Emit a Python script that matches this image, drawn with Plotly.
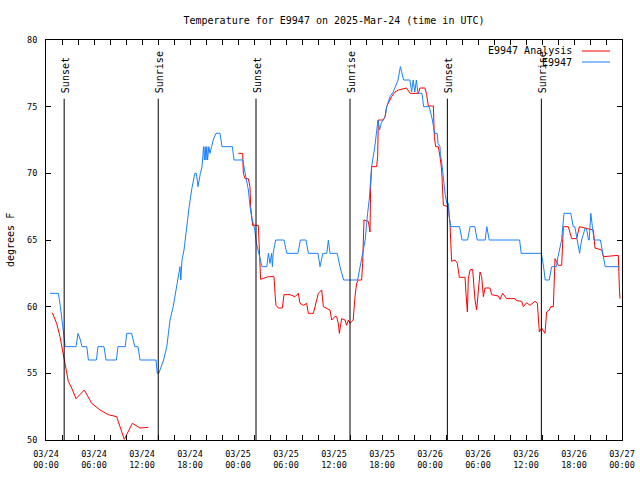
import plotly.graph_objects as go
import pandas as pd

BASE = pd.Timestamp("2025-03-24 00:00")

# Observed station temperature (E9947): hours since 03/24 00:00 UTC, degrees F
obs_hours = [0.5, 1.55, 1.8, 2.0, 2.2, 2.4, 3.75, 4.0, 4.3, 4.5, 5.1, 5.3, 6.3, 6.5, 7.25, 7.5,
             8.8, 9.0, 9.9, 10.1, 10.7, 10.9, 11.1, 11.5, 11.75, 13.75, 13.9, 14.1, 14.4, 14.7,
             15.1, 15.3, 15.5, 15.9, 16.3, 16.6, 16.75, 16.85, 17.0, 17.25, 17.6, 17.9, 18.2,
             18.6, 18.8, 19.0, 19.3, 19.5, 19.7, 19.8, 19.9, 20.0, 20.1, 20.2, 20.35, 20.5,
             20.7, 20.9, 21.25, 21.75, 22.0, 23.3, 23.5, 24.6, 24.8, 25.0, 25.3, 25.5, 25.7,
             26.1, 26.3, 26.5, 26.7, 27.0, 27.6, 27.8, 28.0, 28.2, 28.3, 28.4, 28.7, 29.75,
             30.1, 31.5, 31.8, 32.5, 32.8, 34.0, 34.25, 34.6, 35.1, 35.3, 35.5, 36.4, 36.75,
             37.2, 38.95, 39.25, 39.5, 39.9, 40.2, 40.4, 40.7, 41.1, 41.5, 41.7, 41.9, 42.4,
             42.6, 43.0, 43.4, 44.0, 44.3, 44.5, 44.7, 45.5, 45.7, 45.9, 46.1, 46.3, 46.5,
             47.0, 47.2, 47.9, 48.2, 48.3, 48.5, 48.6, 48.9, 49.0, 49.25, 49.3, 49.45, 49.6,
             49.75, 49.9, 50.1, 50.3, 50.4, 50.6, 51.7, 52.0, 52.7, 53.0, 53.6, 53.9, 54.9,
             55.1, 55.4, 59.2, 59.4, 61.9, 62.0, 62.25, 62.4, 62.9, 63.2, 63.8, 64.0, 64.45,
             64.75, 65.6, 65.9, 66.1, 66.4, 66.7, 66.95, 67.15, 67.4, 67.6, 67.8, 67.9, 68.1,
             68.3, 68.5, 69.3, 69.6, 69.9, 71.7]
obs_temp = [61, 61, 60, 59, 58, 57, 57, 58, 57.5, 57, 57, 56, 56, 57, 57, 56,
            56, 57, 57, 58, 58, 57.5, 57, 57, 56, 56, 55, 55, 55.5, 56,
            57, 58, 59, 60, 61.5, 62.5, 63, 62, 63.5, 64.25, 66.25, 67.5, 68.75,
            70, 70, 69, 70, 70.5, 72, 71, 72, 71, 72, 71, 72, 71.5,
            72, 72.5, 73, 73, 72, 72, 71, 71, 70.3, 69.75, 68.75, 67.5, 66.75,
            65.75, 64.75, 64.25, 63.75, 63, 63, 64, 63.25, 64, 63, 64, 65, 65,
            64, 64, 65, 65, 64, 64, 63, 64, 64, 65, 64, 64, 63,
            62, 62, 63, 63.75, 65, 67, 68, 70.5, 72, 74, 73.25, 73.75, 74.25,
            75, 75.75, 76.1, 77, 78, 77.5, 77, 77, 76.1, 77, 76.1, 77, 76,
            76, 75, 75, 74.25, 74, 73.25, 73, 73, 72.25, 72, 71.4, 70.9, 70.25,
            69.25, 68.4, 67.75, 67.75, 66.75, 66, 66, 65, 65, 66, 66, 65, 65,
            66, 65, 65, 64, 64, 63.75, 62.75, 62, 62, 63, 63, 63.75, 65,
            67, 67, 66, 66, 65, 64, 65, 65.5, 65.9, 65.75, 65, 65, 67,
            66, 65, 65, 64, 63, 63]

# Analysis temperature (E9947 Analysis), two segments with a gap
ana_hours_a = [0.79, 1.33, 1.75, 2.17, 2.375, 2.79, 3.21, 3.75, 4.79, 5.71, 6.75, 7.79, 8.83,
               9.79, 10.79, 11.75, 12.79]
ana_temp_a = [59.55, 58.75, 57.75, 56.4, 55.5, 54.4, 53.9, 53.1, 53.75, 52.75, 52.25, 51.9, 51.75,
              50.05, 51.25, 50.9, 50.95]
ana_hours_b = [24.04, 24.58, 24.67, 24.875, 25.29, 25.5, 25.58, 25.83, 26.54, 26.75, 26.83, 27.79,
               28.5, 28.625, 28.75, 29.04, 29.54, 29.75, 30.5, 31.125, 31.33, 31.54, 31.75, 32.17,
               32.58, 32.79, 33.42, 33.625, 34.04, 34.46, 34.67, 35.5, 35.71, 36.1, 36.33, 36.54,
               36.67, 36.96, 37.375, 37.58, 37.79, 38.0, 38.4, 38.625, 38.83, 39.04, 39.46, 39.58,
               39.67, 39.75, 40.29, 40.5, 40.58, 40.71, 41.33, 41.46, 41.54, 42.17, 42.375, 42.58,
               43.2, 43.625, 44.04, 45.08, 45.5, 46.54, 46.75, 47.375, 47.58, 47.79, 48.42, 48.54,
               48.71, 49.04, 49.25, 49.46, 49.58, 49.67, 50.29, 50.5, 50.625, 50.71, 51.125, 51.42,
               51.67, 52.375, 52.5, 52.67, 52.79, 53.0, 53.33, 53.625, 53.83, 54.04, 54.25, 54.46,
               54.67, 54.875, 55.5, 55.71, 56.54, 56.75, 57.08, 57.58, 58.625, 58.83, 59.46, 59.67,
               60.08, 60.5, 61.125, 61.42, 61.54, 61.67, 61.96, 62.375, 62.58, 62.92, 63.08, 63.42,
               63.625, 64.04, 64.46, 64.67, 65.29, 65.71, 66.33, 66.67, 67.375, 68.42, 68.625,
               69.46, 69.67, 71.54, 71.67, 71.75]
ana_temp_b = [71.5, 71.5, 70, 69.6, 69.6, 69, 67.5, 66.1, 66.1, 63, 62.05, 62.25,
              62.25, 61, 60.1, 59.9, 59.9, 60.9, 60.9, 60.75, 60.9, 61, 60.25, 60.1,
              60.25, 59.5, 59.5, 60, 61, 61.25, 60, 59.75, 59, 59.25, 59.25, 58.75,
              58, 59.1, 59, 58.6, 59, 58.75, 59, 60.75, 61.75, 62, 62, 63.25,
              65.5, 66.5, 66.4, 65.6, 69, 70.5, 70.5, 71.25, 74, 74, 74.25, 75,
              75.75, 76.1, 76.25, 76.4, 76, 76, 76.4, 76.4, 75.9, 75.05, 75.05, 72.75,
              72, 72, 71.25, 70.25, 68.75, 67.6, 67.5, 66.25, 64.4, 63.4, 63.5, 63.25,
              62.2, 62.2, 61, 59.6, 62.1, 62.75, 62.8, 60.5, 59.75, 61.25, 62.6, 62.25,
              60.75, 61.4, 61.4, 60.9, 60.8, 60.55, 61, 60.6, 60.6, 60.45, 60.4, 60,
              60.3, 60.1, 60.4, 60.25, 58.75, 58.1, 58.4, 58, 59.6, 59.75, 60, 60,
              63.6, 63.1, 63.1, 66, 66, 65.1, 65.1, 66, 65.9, 65.75, 64.4,
              64.25, 63.75, 63.85, 61.4, 60.6]

# Sun events (hours since 03/24 00:00 UTC)
sun_hours = [2.27, 14.03, 26.25, 38.0, 50.17, 61.92]
sun_labels = ["Sunset", "Sunrise", "Sunset", "Sunrise", "Sunset", "Sunrise"]

tick_hours = list(range(0, 73, 2))
tick_labels = ["03/24<br>00:00", "03/24<br>06:00", "03/24<br>12:00", "03/24<br>18:00",
               "03/25<br>00:00", "03/25<br>06:00", "03/25<br>12:00", "03/25<br>18:00",
               "03/26<br>00:00", "03/26<br>06:00", "03/26<br>12:00", "03/26<br>18:00",
               "03/27<br>00:00"]


def to_time(hours):
    return [BASE + pd.Timedelta(hours=h) for h in hours]


RED = "#ff0000"
BLUE = "#1a80ff"
FONT = "DejaVu Sans Mono"

ana_x = to_time(ana_hours_a) + [None] + to_time(ana_hours_b)
ana_y = ana_temp_a + [None] + ana_temp_b

fig = go.Figure()
fig.add_trace(go.Scatter(x=ana_x, y=ana_y, mode="lines", name="E9947 Analysis",
                         line=dict(color=RED, width=1), connectgaps=False, showlegend=False))
fig.add_trace(go.Scatter(x=to_time(obs_hours), y=obs_temp, mode="lines", name="E9947",
                         line=dict(color=BLUE, width=1), showlegend=False))

shapes = []
annotations = []
for h, lab in zip(sun_hours, sun_labels):
    t = BASE + pd.Timedelta(hours=h)
    shapes.append(dict(type="line", xref="x", yref="y", x0=t, x1=t, y0=50, y1=75.6,
                       line=dict(color="black", width=1)))
    annotations.append(dict(x=t, y=76.1, xref="x", yref="y", text=lab, textangle=-90,
                            showarrow=False, xanchor="center", yanchor="bottom", xshift=1,
                            yshift=-3,
                            font=dict(family=FONT, size=10, color="black")))

# gnuplot-style key (text left of sample line)
for name, color, ypx in [("E9947 Analysis", RED, 51), ("E9947", BLUE, 62)]:
    yp = (440 - ypx) / 400
    annotations.append(dict(x=(574 - 46) / 576, y=yp, xref="paper", yref="paper", text=name,
                            showarrow=False, xanchor="right", yanchor="middle",
                            font=dict(family=FONT, size=10, color="black")))
    shapes.append(dict(type="line", xref="paper", yref="paper", x0=(582 - 46) / 576,
                       x1=(610 - 46) / 576, y0=yp, y1=yp, line=dict(color=color, width=1)))

annotations.append(dict(x=0, y=0.5, xref="paper", yref="paper", text="degrees F", textangle=-90,
                        showarrow=False, xanchor="center", yanchor="middle", xshift=-36,
                        font=dict(family=FONT, size=10, color="black")))

ticktext = [tick_labels[i // 3] if i % 3 == 0 else "" for i in range(len(tick_hours))]

fig.update_layout(
    width=640, height=480,
    margin=dict(l=46, r=18, t=40, b=40, autoexpand=False),
    paper_bgcolor="white", plot_bgcolor="white",
    hovermode=False,
    title=dict(text="Temperature for E9947 on 2025-Mar-24 (time in UTC)", x=0.5, xref="paper",
               y=1 - 20 / 480, yref="container", yanchor="middle", xanchor="center",
               font=dict(family=FONT, size=10, color="black")),
    xaxis=dict(type="date", range=[BASE, BASE + pd.Timedelta(hours=72)],
               tickvals=to_time(tick_hours), ticktext=ticktext,
               ticks="inside", ticklen=5, tickwidth=1, tickcolor="black",
               showline=True, linecolor="black", linewidth=1, mirror="ticks",
               showgrid=False, zeroline=False, ticklabelstandoff=6,
               tickfont=dict(family=FONT, size=8.5, color="black")),
    yaxis=dict(range=[50, 80], tickvals=[50, 55, 60, 65, 70, 75, 80],
               ticks="inside", ticklen=5, tickwidth=1, tickcolor="black",
               showline=True, linecolor="black", linewidth=1, mirror="ticks",
               showgrid=False, zeroline=False, ticklabelstandoff=6,
               tickfont=dict(family=FONT, size=8.5, color="black")),
    shapes=shapes, annotations=annotations,
)

fig.write_html("out.html", config={"displayModeBar": False, "staticPlot": True},
               post_script="document.body.style.margin='0px';document.body.style.overflow='hidden';")
